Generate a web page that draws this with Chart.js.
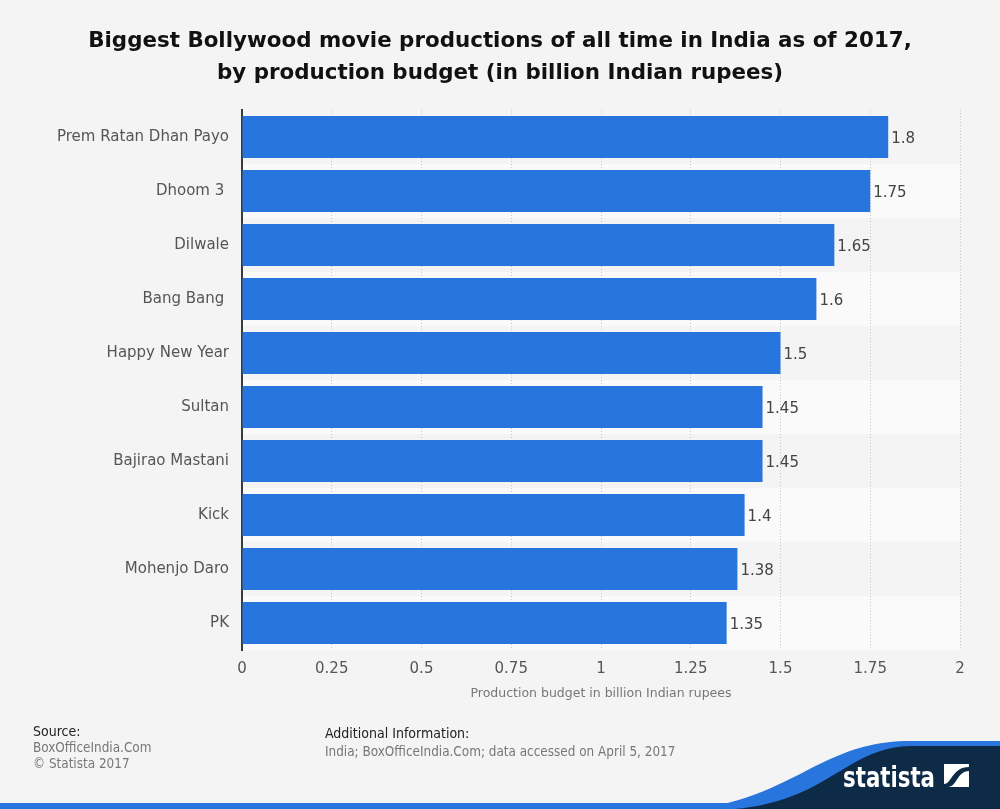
<!DOCTYPE html>
<html>
<head>
<meta charset="utf-8">
<script src="https://cdn.jsdelivr.net/npm/chart.js@4.4.1/dist/chart.umd.min.js"></script>
<style>
  html, body { margin: 0; padding: 0; background: #f4f4f4; }
  #wrap { position: relative; width: 1000px; height: 809px; overflow: hidden; font-family: 'DejaVu Sans', sans-serif; }
  #c { position: absolute; left: 0; top: 0; }
  .title { position: absolute; left: 0; width: 1000px; text-align: center; font-weight: bold; font-size: 21.4px; color: #111; line-height: 32px; top: 24px; }
  .axt { position: absolute; left: 242px; width: 718px; text-align: center; top: 685px; font-size: 12.5px; color: #777; }
  .foot { position: absolute; font-family: 'DejaVu Sans Condensed', 'DejaVu Sans', sans-serif; font-size: 13.4px; line-height: 16px; }
  .dark { color: #222; font-size: 14px; }
  .gray { color: #777; }
</style>
</head>
<body>
<div id="wrap">
  <canvas id="c" width="1000" height="809"></canvas>
  <div class="title">Biggest Bollywood movie productions of all time in India as of 2017,<br>by production budget (in billion Indian rupees)</div>
  <div class="axt">Production budget in billion Indian rupees</div>
  <div class="foot" style="left:33px; top:723px;"><span class="dark">Source:</span><br><span class="gray">BoxOfficeIndia.Com</span><br><span class="gray">© Statista 2017</span></div>
  <div class="foot" style="left:325px; top:724px; line-height:18px;"><span class="dark">Additional Information:</span><br><span class="gray">India; BoxOfficeIndia.Com; data accessed on April 5, 2017</span></div>
  <svg style="position:absolute;left:0;top:0" width="1000" height="809">
    <rect x="0" y="803" width="1000" height="6" fill="#2876dd"/>
    <path d="M 690 809 C 790 800 820 743 905 741 L 1000 741 L 1000 809 Z" fill="#2876dd"/>
    <path d="M 735 809 C 830 800 845 748 910 746 L 1000 746 L 1000 809 Z" fill="#0d2a46"/>
    <text x="843" y="787" font-family="'DejaVu Sans Condensed','DejaVu Sans',sans-serif" font-weight="bold" font-size="28" textLength="92" lengthAdjust="spacingAndGlyphs" fill="#fff">statista</text>
    <rect x="944" y="764" width="25" height="23" fill="#fff"/>
    <path d="M 944 784 C 952 784 952 767 969 767 L 969 771 C 957 771 957 787 948 787 L 944 787 Z" fill="#0d2a46"/>
  </svg>
</div>
<script>
const categories = ['Prem Ratan Dhan Payo', 'Dhoom 3 ', 'Dilwale', 'Bang Bang ', 'Happy New Year', 'Sultan', 'Bajirao Mastani', 'Kick', 'Mohenjo Daro', 'PK'];
const budgets = [1.8, 1.75, 1.65, 1.6, 1.5, 1.45, 1.45, 1.4, 1.38, 1.35];
const xTicks = [0, 0.25, 0.5, 0.75, 1, 1.25, 1.5, 1.75, 2];

const stripes = {
  id: 'stripes',
  beforeDraw(chart) {
    const { ctx, chartArea, scales } = chart;
    const y = scales.y;
    const n = categories.length;
    const h = (chartArea.bottom - chartArea.top) / n;
    ctx.save();
    for (let i = 0; i < n; i++) {
      if (i % 2 === 1) {
        const cy = y.getPixelForValue(i);
        ctx.fillStyle = '#fafafa';
        ctx.fillRect(chartArea.left, cy - h / 2, chartArea.right - chartArea.left, h);
      }
    }
    ctx.restore();
  }
};

const valueLabels = {
  id: 'valueLabels',
  afterDatasetsDraw(chart) {
    const { ctx } = chart;
    const meta = chart.getDatasetMeta(0);
    ctx.save();
    ctx.font = '15px "DejaVu Sans"';
    ctx.fillStyle = '#444';
    ctx.textBaseline = 'middle';
    ctx.textAlign = 'left';
    meta.data.forEach((bar, i) => {
      ctx.fillText(String(budgets[i]), bar.x + 3, bar.y + 2);
    });
    ctx.restore();
  }
};

new Chart(document.getElementById('c'), {
  type: 'bar',
  data: {
    labels: categories,
    datasets: [{
      data: budgets,
      backgroundColor: '#2876dd',
      borderWidth: 0,
      barPercentage: 0.78,
      categoryPercentage: 1.0
    }]
  },
  options: {
    indexAxis: 'y',
    responsive: false,
    animation: false,
    devicePixelRatio: 1,
    layout: { padding: { top: 110, right: 40, left: 0, bottom: 0 } },
    plugins: { legend: { display: false }, tooltip: { enabled: false }, title: { display: false } },
    scales: {
      x: {
        min: 0, max: 2,
        afterBuildTicks(scale) { scale.ticks = xTicks.map(v => ({ value: v })); },
        afterFit(scale) { scale.height = 159; },
        ticks: {
          font: { family: 'DejaVu Sans', size: 15 },
          color: '#555',
          padding: 10,
          callback: v => String(v)
        },
        grid: { color: '#c8c8c8', drawTicks: false, lineWidth: 1 },
        border: { display: false, dash: [1, 2] }
      },
      y: {
        afterFit(scale) { scale.width = 242; },
        ticks: {
          font: { family: 'DejaVu Sans', size: 15 },
          color: '#555',
          padding: 5
        },
        grid: { display: false },
        border: { display: true, color: '#3a3a3a', width: 2 }
      }
    }
  },
  plugins: [stripes, valueLabels]
});
</script>
</body>
</html>
